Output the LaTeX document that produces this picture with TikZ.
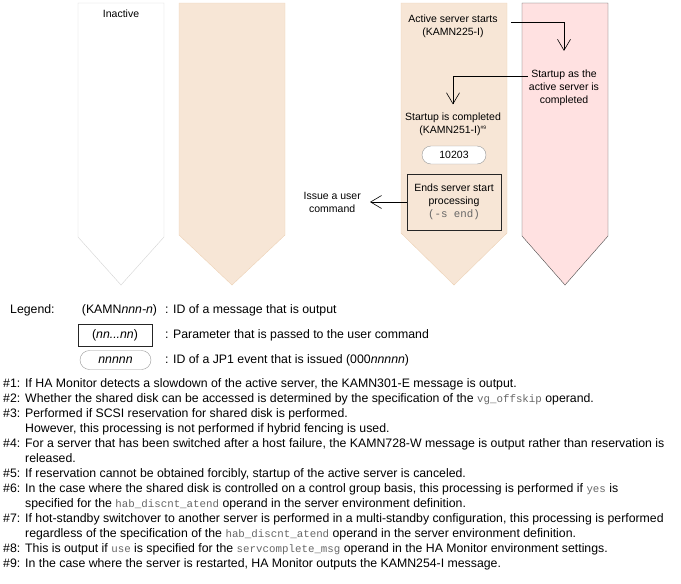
\documentclass[tikz,border=0pt]{standalone}
\usepackage{fontspec}
\setmainfont{Liberation Sans}
\setmonofont{Liberation Mono}
\usetikzlibrary{arrows.meta,positioning,shapes.misc}

\definecolor{laneTan}{HTML}{F7E6D6}
\definecolor{laneTanLine}{HTML}{EDD2B6}
\definecolor{lanePink}{HTML}{FFE1E1}
\definecolor{laneGray}{HTML}{D4D4D4}
\newcommand{\opnd}[1]{{\fontsize{10.8}{13}\selectfont\textcolor{black!60}{\texttt{#1}}}}

\begin{document}
\begin{tikzpicture}[x=1pt,y=-1pt]
	\tikzset{every node/.style={font=\fontsize{10.5}{13}\selectfont, inner sep=1pt}}
	\tikzset{keytext/.style={font=\fontsize{12.3}{15}\selectfont}}
	\tikzset{flow/.style={-{Straight Barb[length=11pt,width=13pt]}, line width=0.6pt}}
	\tikzset{msg/.style={align=center}}
	\tikzset{event/.style={draw=black!40, fill=white, rounded rectangle, minimum width=66pt, minimum height=18pt}}
	\tikzset{param/.style={draw=black!85, line width=0.7pt, align=center}}

	\useasboundingbox (0,0) rectangle (681,584);

	% lanes
	\draw[laneGray, fill=white] (78,3) -- (164,3) -- (164,237) -- (121,285) -- (78,237) -- cycle;
	\draw[laneTanLine, fill=laneTan] (179,3) -- (285,3) -- (285,235) -- (232,285) -- (179,235) -- cycle;
	\draw[laneTanLine, fill=laneTan] (401,3) -- (507,3) -- (507,233) -- (454,285) -- (401,233) -- cycle;
	\draw[black!70, fill=lanePink] (522,3) -- (608,3) -- (608,236) -- (565,285) -- (522,236) -- cycle;

	\node (inactive) at (121,14) {Inactive};

	\node[msg] (start) at (453,26.5) {Active server starts\\(KAMN225-I)};
	\node[msg] (active) at (564,88) {Startup as the\\active server is\\completed};
	\node[msg] (done) at (453,124) {Startup is completed\\(KAMN251-I)\textsuperscript{\tiny\#9}};
	\node[event, minimum width=66pt] (ev) at (454,155) {10203};
	\node[param, fill=laneTan, minimum width=94pt, minimum height=56pt] (endproc) at (454,202)
		{Ends server start\\processing\\\opnd{(-s end)}};
	\coordinate (cmdEnd) at (370,202);
	\node[msg, left=8pt of cmdEnd] (cmd) {Issue a user\\command};

	\draw[flow] ([xshift=12pt,yshift=4.5pt]start.east) -| ([yshift=18pt]active.north);
	\draw[flow] ([yshift=12pt]active.west) -| ([yshift=7pt]done.north);
	\draw[flow] (endproc.west) -- (cmdEnd);

	% legend
	\node[keytext, anchor=west] (legend) at (9,310) {Legend:};
	\node[keytext] (lgMsg) at (119.5,310) {(KAMN\textit{nnn-n})};
	\node[keytext, anchor=west] (lgMsgTxt) at (164,310) {: ID of a message that is output};
	\node[keytext, param, minimum width=74pt, minimum height=22pt] (lgPar) at (115,335) {(\textit{nn...nn})};
	\node[keytext, anchor=west] (lgParTxt) at (164,335) {: Parameter that is passed to the user command};
	\node[keytext, event, minimum width=73pt, minimum height=19pt] (lgEv) at (115.5,360) {\textit{nnnnn}};
	\node[keytext, anchor=west] (lgEvTxt) at (164,360) {: ID of a JP1 event that is issued (000\textit{nnnnn})};

	% notes
	\node[keytext, anchor=north west, inner sep=0pt] (notes) at (3,377) {%
		\begin{tabular}{@{}p{22pt}@{}l@{}}
		\#1: & If HA Monitor detects a slowdown of the active server, the KAMN301-E message is output.\\
		\#2: & Whether the shared disk can be accessed is determined by the specification of the \opnd{vg\_offskip} operand.\\
		\#3: & Performed if SCSI reservation for shared disk is performed.\\
		     & However, this processing is not performed if hybrid fencing is used.\\
		\#4: & For a server that has been switched after a host failure, the KAMN728-W message is output rather than reservation is\\
		     & released.\\
		\#5: & If reservation cannot be obtained forcibly, startup of the active server is canceled.\\
		\#6: & In the case where the shared disk is controlled on a control group basis, this processing is performed if \opnd{yes} is\\
		     & specified for the \opnd{hab\_discnt\_atend} operand in the server environment definition.\\
		\#7: & If hot-standby switchover to another server is performed in a multi-standby configuration, this processing is performed\\
		     & regardless of the specification of the \opnd{hab\_discnt\_atend} operand in the server environment definition.\\
		\#8: & This is output if \opnd{use} is specified for the \opnd{servcomplete\_msg} operand in the HA Monitor environment settings.\\
		\#9: & In the case where the server is restarted, HA Monitor outputs the KAMN254-I message.
		\end{tabular}};
\end{tikzpicture}
\end{document}
